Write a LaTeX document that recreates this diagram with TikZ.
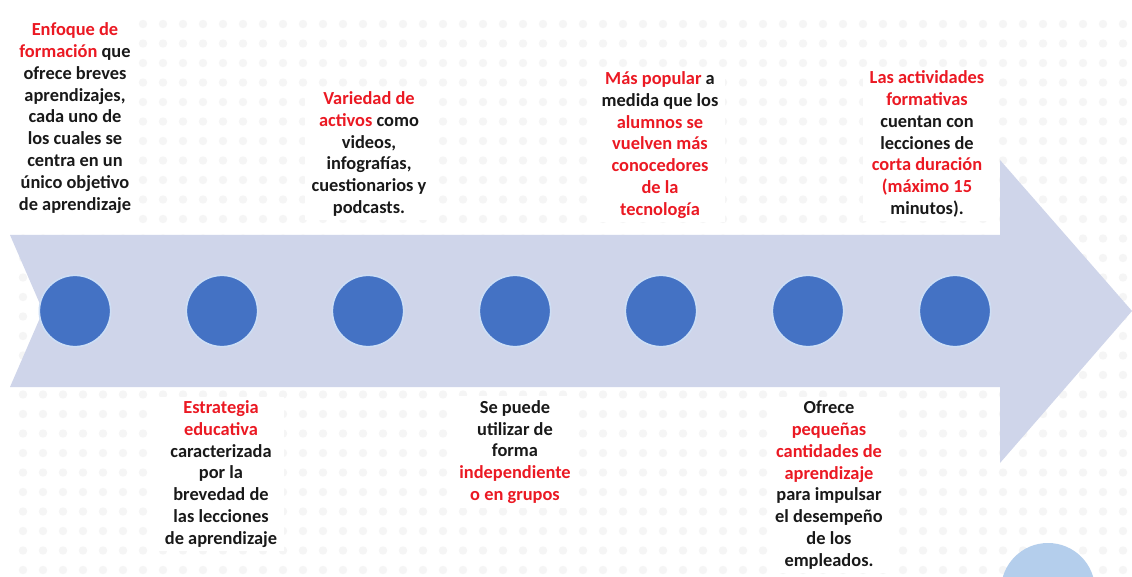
\documentclass[tikz,border=0pt]{standalone}
\usepackage{fontspec}
\setmainfont{Carlito}
\definecolor{arrowfill}{RGB}{207,213,234}
\definecolor{dotblue}{RGB}{68,114,196}
\definecolor{ringblue}{RGB}{205,222,245}
\definecolor{txtred}{RGB}{235,25,35}
\definecolor{txtblack}{RGB}{25,25,25}
\definecolor{patgray}{RGB}{245,245,245}
\definecolor{paleblue}{RGB}{180,206,236}
\newcommand{\rd}[1]{\textcolor{txtred}{#1}}
\begin{document}
\begin{tikzpicture}[x=0.75pt,y=-0.75pt,
  dotnode/.style={circle,fill=dotblue,draw=ringblue,line width=1.2pt,minimum size=53.5pt,inner sep=0pt},
  txtbox/.style={align=center,fill=white,inner xsep=5pt,inner ysep=3pt,text=txtblack,
    font=\fontsize{13.8}{16.35}\selectfont\bfseries}]
\useasboundingbox (0,0) rectangle (1132,577);
\fill[white] (0,0) rectangle (1132,577);
% background pattern
\foreach \i in {0,...,55}{
  \foreach \j in {0,...,28}{
    \fill[patgray] (23+20*\i,24+19.5*\j) circle[radius=4.2];
  }
}
% white panel behind first text
\fill[white] (10,10) rectangle (132,232);
% big arrow
\fill[arrowfill] (10,235) -- (1000,235) -- (1000,160) -- (1132,311) -- (1000,463)
  -- (1000,387) -- (10,387) -- (43,311) -- cycle;
% partial circle at bottom right
\fill[paleblue] (1048,590) circle[radius=47];
% circles
\foreach \n/\x in {c1/75,c2/222,c3/368,c4/515,c5/661,c6/808,c7/955}{
  \node[dotnode] (\n) at (\x,311) {};
}
% texts above
\node[txtbox] (t1) at (75,118) {\rd{Enfoque de}\\\rd{formación} que\\ofrece breves\\aprendizajes,\\cada uno de\\los cuales se\\centra en un\\único objetivo\\de aprendizaje};
\node[txtbox] (t2) at (369,154) {\rd{Variedad de}\\\rd{activos} como\\videos,\\infografías,\\cuestionarios y\\podcasts.};
\node[txtbox] (t3) at (660,145) {\rd{Más popular} a\\medida que los\\\rd{alumnos se}\\\rd{vuelven más}\\\rd{conocedores}\\\rd{de la}\\\rd{tecnología}};
\node[txtbox] (t4) at (927,144) {\rd{Las actividades}\\\rd{formativas}\\cuentan con\\lecciones de\\\rd{corta duración}\\\rd{(máximo 15}\\minutos).};
% texts below
\node[txtbox] (t5) at (221,474) {\rd{Estrategia}\\\rd{educativa}\\caracterizada\\por la\\brevedad de\\las lecciones\\de aprendizaje};
\node[txtbox] (t6) at (515,452) {Se puede\\utilizar de\\forma\\\rd{independiente}\\\rd{o en grupos}};
\node[txtbox] (t7) at (829,485) {Ofrece\\\rd{pequeñas}\\\rd{cantidades de}\\\rd{aprendizaje}\\para impulsar\\el desempeño\\de los\\empleados.};
\end{tikzpicture}
\end{document}
